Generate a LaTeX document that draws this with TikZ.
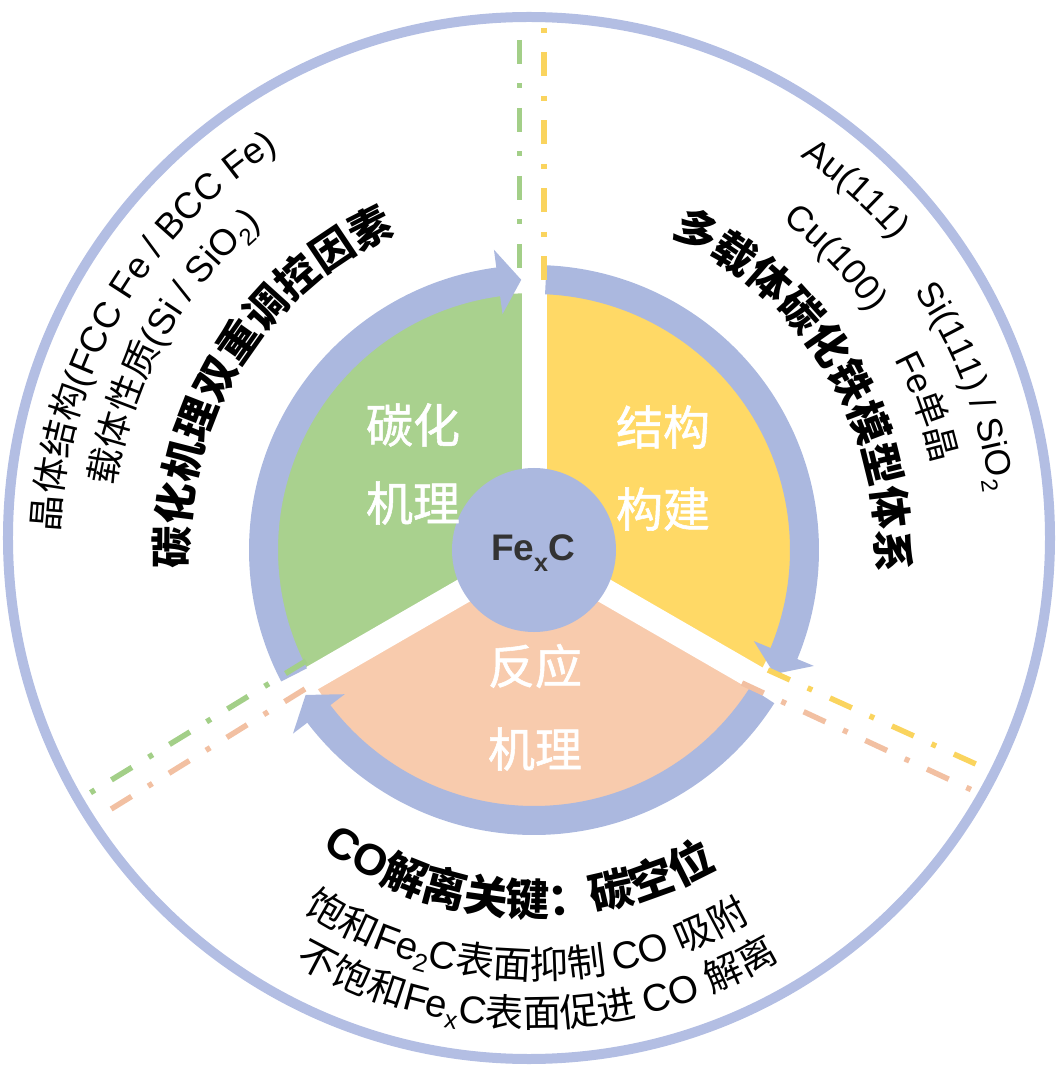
\documentclass[tikz,border=0pt]{standalone}
\usepackage{fontspec}
\setmainfont{Liberation Sans}
\newfontfamily\cjkR{Noto Sans CJK SC}
\newfontfamily\cjkM[FakeBold=1.2]{Noto Sans CJK SC}
\newfontfamily\latR{Liberation Sans}
\usetikzlibrary{decorations.text}
\newcommand\fz[1]{\fontsize{#1}{#1}\selectfont}
\newcommand\subtwo{\raisebox{-0.22em}{\scalebox{0.65}{2}}}
\newcommand\subx{\raisebox{-0.22em}{\scalebox{0.65}{x}}}
\definecolor{ringblue}{HTML}{ABB8DF}
\definecolor{outerblue}{HTML}{B3BEE3}
\definecolor{sgreen}{HTML}{A9D18E}
\definecolor{syellow}{HTML}{FFD966}
\definecolor{speach}{HTML}{F8CBAD}
\definecolor{lgreen}{HTML}{A3CF88}
\definecolor{lyellow}{HTML}{FAD45E}
\definecolor{lpeach}{HTML}{F2C0A2}
\definecolor{fetext}{HTML}{333333}
\tikzset{
  ringarc/.style={draw=ringblue, line width=29pt},
  gapband/.style={draw=white, line width=25pt},
  dashdot/.style={line width=5.5pt, dash pattern=on 24pt off 19.5pt on 5pt off 19.5pt},
  dotdash/.style={line width=5.5pt, dash pattern=on 5pt off 19.5pt on 24pt off 19.5pt},
  seclabel/.style={text=white, font=\cjkM\fz{47pt}, inner sep=0pt},
}
\begin{document}
\begin{tikzpicture}[x=1pt,y=1pt]
\useasboundingbox (-534,-523) rectangle (530,550);
% outer circle
\draw[outerblue, line width=10pt] (-5,12) circle[radius=521pt];
% sectors
\fill[sgreen] (0,0) -- (90:257pt) arc[start angle=90,end angle=210,radius=257pt] -- cycle;
\fill[syellow] (0,0) -- (-30:257pt) arc[start angle=-30,end angle=90,radius=257pt] -- cycle;
\fill[speach] (0,0) -- (210:257pt) arc[start angle=210,end angle=330,radius=257pt] -- cycle;
% gaps
\foreach \a in {90,210,330} \draw[gapband] (0,0) -- (\a:300pt);
% ring arcs with arrowheads
\draw[ringarc] (207.5:270.5pt) arc[start angle=207.5,end angle=97.0,radius=270.5pt];
\fill[ringblue] (97.6:238pt) -- (97.6:303pt) -- (92.7:270.5pt) -- cycle;
\draw[ringarc] (87.5:270.5pt) arc[start angle=87.5,end angle=-23.1,radius=270.5pt];
\fill[ringblue] (-22.5:238pt) -- (-22.5:303pt) -- (-27.3:270.5pt) -- cycle;
\draw[ringarc] (-32.5:270.5pt) arc[start angle=-32.5,end angle=-143.3,radius=270.5pt];
\fill[ringblue] (-142.7:238pt) -- (-142.7:303pt) -- (-147.6:270.5pt) -- cycle;
% dash-dot guide lines
\coordinate (gt1) at (-14.5,510); \coordinate (gt2) at (-14.5,278);
\coordinate (yt1) at (10,522);    \coordinate (yt2) at (10,270);
\coordinate (yr1) at (234,-120);  \coordinate (yr2) at (444,-215);
\coordinate (pr1) at (208,-133);  \coordinate (pr2) at (440,-241);
\coordinate (gl1) at (-228,-111); \coordinate (gl2) at (-444,-243);
\coordinate (pl1) at (-229,-139); \coordinate (pl2) at (-426,-261);
\draw[lgreen, dashdot] (gt1) -- (gt2);
\draw[lyellow, dotdash] (yt1) -- (yt2);
\draw[lyellow, dashdot] (yr1) -- (yr2);
\draw[lpeach, dashdot] (pr1) -- (pr2);
\draw[lgreen, dashdot] (gl1) -- (gl2);
\draw[lpeach, dashdot] (pl1) -- (pl2);
% centre
\node[circle, fill=ringblue, minimum size=164pt, inner sep=0pt] (fe) at (0,0) {};
\node[anchor=base, text=fetext, font=\latR\bfseries\fz{37pt}, inner sep=0pt] (felabel) at (-1,-11) {Fe\raisebox{-0.28em}{\scalebox{0.68}{x}}C};
% sector labels
\node[seclabel] (g1) at (-121,125) {碳化};
\node[seclabel] (g2) at (-121,47) {机理};
\node[seclabel] (y1) at (129,123) {结构};
\node[seclabel] (y2) at (129,41) {构建};
\node[seclabel] (p1) at (1,-116) {反应};
\node[seclabel] (p2) at (1,-199) {机理};
% left texts
\path[decorate, decoration={text along path, text align=center,
  text={|\cjkR\fz{36.5pt}|晶体结构|\latR\fz{36.5pt}|(FCC Fe / BCC Fe)}}]
  (210.2:475pt) arc[start angle=210.2,end angle=90.2,radius=475pt];
\path[decorate, decoration={text along path, text align=center,
  text={|\cjkR\fz{36.5pt}|载体性质|\latR\fz{36.5pt}|(Si / SiO{\subtwo})}}]
  (210.7:424pt) arc[start angle=210.7,end angle=90.7,radius=424pt];
\path[decorate, decoration={text along path, text align=center,
  text={|\cjkR\bfseries\fz{42pt}|碳化机理双重调控因素}}]
  (208.3:346pt) arc[start angle=208.3,end angle=88.3,radius=346pt];
% right texts
\path[decorate, decoration={text along path, text align=center,
  text={|\cjkR\bfseries\fz{42pt}|多载体碳化铁模型体系}}]
  (91.4:343pt) arc[start angle=91.4,end angle=-28.6,radius=343pt];
\path[decorate, decoration={text along path,
  text={|\latR\fz{35.5pt}|Au(111)}}]
  (55.9:475pt) arc[start angle=55.9,end angle=15.9,radius=475pt];
\path[decorate, decoration={text along path,
  text={|\latR\fz{35.5pt}|Si(111) / SiO{\subtwo}}}]
  (34.2:460pt) arc[start angle=34.2,end angle=-15,radius=460pt];
\path[decorate, decoration={text along path,
  text={|\latR\fz{35.5pt}|Cu(100)}}]
  (53:412pt) arc[start angle=53,end angle=13,radius=412pt];
\path[decorate, decoration={text along path,
  text={|\latR\fz{35.5pt}|Fe|\cjkR\fz{35.5pt}|单晶}}]
  (27.9:408pt) arc[start angle=27.9,end angle=-12,radius=408pt];
% bottom texts
\path[decorate, decoration={text along path, text align=center,
  text={|\latR\bfseries\fz{44pt}|CO|\cjkR\bfseries\fz{44pt}|解离关键：碳空位}}]
  (207.3:366pt) arc[start angle=207.3,end angle=327.3,radius=366pt];
\path[decorate, decoration={text along path, text align=center,
  text={|\cjkR\fz{38.5pt}|饱和|\latR\fz{38.5pt}|Fe{\subtwo}C|\cjkR\fz{38.5pt}|表面抑制 |\latR\fz{38.5pt}|CO |\cjkR\fz{38.5pt}|吸附}}]
  (208.9:429pt) arc[start angle=208.9,end angle=328.9,radius=429pt];
\path[decorate, decoration={text along path, text align=center,
  text={|\cjkR\fz{38.5pt}|不饱和|\latR\fz{38.5pt}|Fe{\subx}C|\cjkR\fz{38.5pt}|表面促进 |\latR\fz{38.5pt}|CO |\cjkR\fz{38.5pt}|解离}}]
  (210.5:477.5pt) arc[start angle=210.5,end angle=330.5,radius=477.5pt];
\end{tikzpicture}
\end{document}
